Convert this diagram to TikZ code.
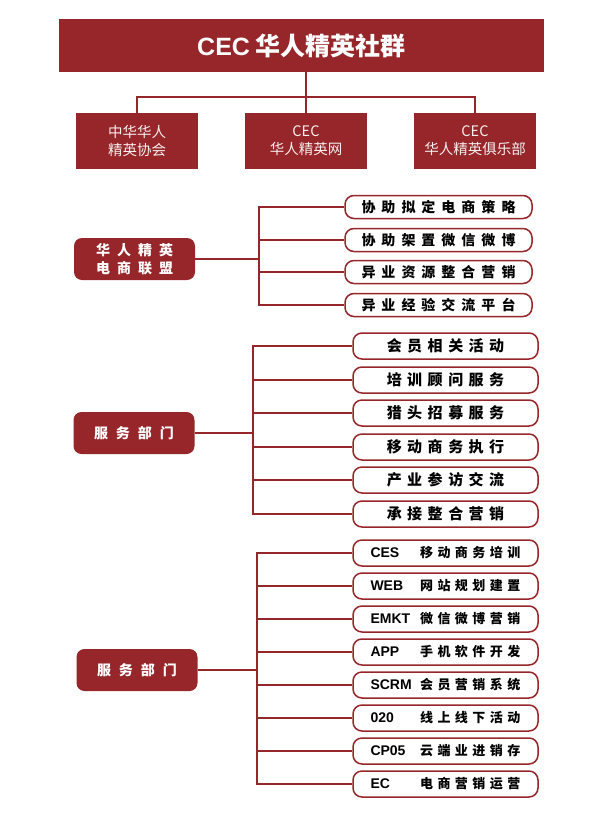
\documentclass[tikz,border=0pt]{standalone}
\usepackage{fontspec}
\setmainfont{Noto Sans CJK SC}
\newfontfamily\latin{Liberation Sans}
\usepackage{tikz}

\definecolor{cecred}{RGB}{150,38,42}

% spread CJK characters apart
\makeatletter
\def\gap@loop#1{\ifx#1\relax\else\gap@sep#1\def\gap@sep{\hspace{\gap@skip}}\expandafter\gap@loop\fi}
\newcommand\gapped[2][5pt]{\def\gap@skip{#1}\def\gap@sep{}\edef\gap@list{#2}\expandafter\gap@loop\gap@list\relax}
\makeatother

\begin{document}
\begin{tikzpicture}[x=1pt, y=-1pt,
    title/.style={fill=cecred, text=white, minimum width=485pt, minimum height=53pt, font=\fontsize{25}{28}\selectfont\bfseries},
    unit/.style={fill=cecred, text=white!92!cecred, minimum width=122pt, minimum height=56pt, align=center, font=\fontsize{14.5}{18}\selectfont},
    branch/.style={fill=cecred, text=white, rounded corners=8pt, minimum width=121pt, minimum height=42pt, align=center, font=\fontsize{14}{18}\selectfont\bfseries},
    item/.style={draw=cecred, line width=1.5pt, fill=white, rounded corners=9pt, minimum width=185pt, minimum height=25pt, inner sep=0pt},
    link/.style={draw=cecred, line width=2pt}]
    \useasboundingbox (0, 0) rectangle (600, 815);

    % head and its three units
    \node[title] (cec) at (301.5, 45.5) {{\latin CEC} 华人精英社群};
    \node[unit] (assoc) at (137, 141) {中华华人\\精英协会};
    \node[unit] (net) at (306, 141) {CEC\\华人精英网};
    \node[unit] (club) at (475, 141) {CEC\\华人精英俱乐部};

    \coordinate (hub) at (306, 97);
    \draw[link, line width=1.4pt] (hub |- cec.south) -- (hub);
    \draw[link, line width=1.4pt] (hub) -| (assoc);
    \draw[link, line width=1.4pt] (hub) -- (net);
    \draw[link, line width=1.4pt] (hub) -| (club);

    % e-commerce alliance
    \node[branch] (alliance) at (134.5, 259) {\gapped[7pt]{华人精英}\\\gapped[7pt]{电商联盟}};
    \coordinate (trunkA) at (259, 259);
    \draw[link] (alliance) -- (trunkA);
    \foreach \txt/\y [count=\i] in {协助拟定电商策略/207, 协助架置微信微博/240, 异业资源整合营销/272, 异业经验交流平台/305} {
        \node[item, minimum width=187pt, minimum height=23pt, font=\fontsize{14}{16}\selectfont\bfseries] (a\i) at (438.5, \y) {\gapped[6pt]{\txt}};
        \draw[link] (trunkA) |- (a\i);
    }

    % service department
    \node[branch] (service) at (134, 433) {\gapped[8pt]{服务部门}};
    \coordinate (trunkB) at (253, 433);
    \draw[link] (service) -- (trunkB);
    \foreach \txt/\y [count=\i] in {会员相关活动/346, 培训顾问服务/380, 猎头招募服务/413, 移动商务执行/447, 产业参访交流/480, 承接整合营销/514} {
        \node[item, minimum height=26pt, font=\fontsize{15}{17}\selectfont\bfseries] (b\i) at (445.5, \y) {\gapped[5.5pt]{\txt}};
        \draw[link] (trunkB) |- (b\i);
    }

    % service department, products
    \node[branch] (products) at (137, 670) {\gapped[8pt]{服务部门}};
    \coordinate (trunkC) at (257, 670);
    \draw[link] (products) -- (trunkC);
    \foreach \code/\txt [count=\i] in {CES/移动商务培训, WEB/网站规划建置, EMKT/微信微博营销, APP/手机软件开发, SCRM/会员营销系统, 020/线上线下活动, CP05/云端业进销存, EC/电商营销运营} {
        \node[item, minimum height=26pt, font=\fontsize{13}{15}\selectfont\bfseries] (c\i) at (445.5, 553 + 33*\i - 33)
            {\hbox to 150pt{{\latin\fontsize{14}{15}\selectfont\bfseries\code}\hfill\gapped[4.5pt]{\txt}}};
        \draw[link] (trunkC) |- (c\i);
    }
\end{tikzpicture}
\end{document}
